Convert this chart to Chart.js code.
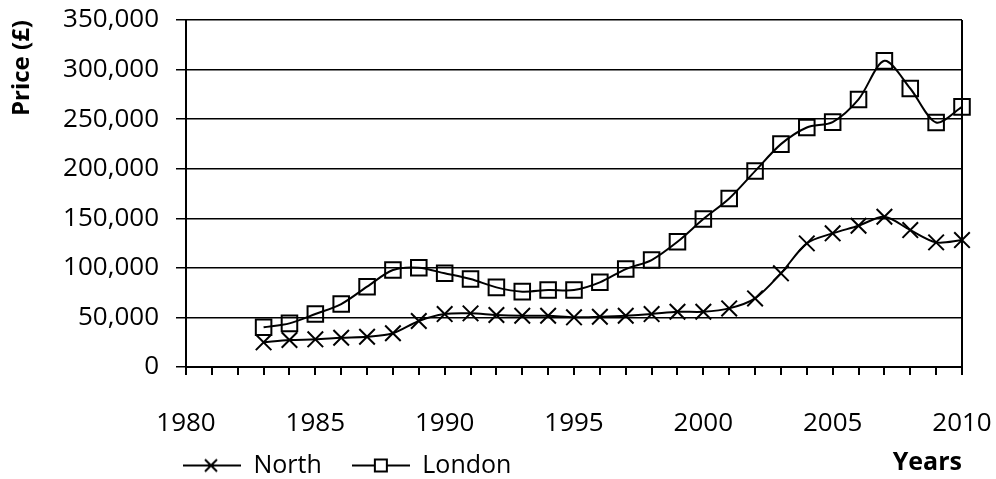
<!DOCTYPE html>
<html>
<head>
<meta charset="utf-8">
<script src="https://cdn.jsdelivr.net/npm/chart.js@4/dist/chart.umd.min.js"></script>
<style>
  html, body { margin: 0; padding: 0; background: #fff; }
  #wrap { width: 996px; height: 479px; }
</style>
</head>
<body>
<div id="wrap"><canvas id="priceChart"></canvas></div>
<script>
// data
const years  = [1983, 1984, 1985, 1986, 1987, 1988, 1989, 1990, 1991, 1992, 1993, 1994, 1995, 1996,
                1997, 1998, 1999, 2000, 2001, 2002, 2003, 2004, 2005, 2006, 2007, 2008, 2009, 2010];
const north  = [24900, 27200, 27900, 29500, 30500, 34000, 46400, 53400, 54100, 52400, 51700, 51700, 50100, 50700,
                51700, 53400, 55700, 55700, 59100, 69200, 94500, 124700, 134800, 142500, 151500, 138100, 125700, 128000];
const london = [40000, 44000, 53400, 63500, 81000, 97800, 100100, 94500, 88700, 80300, 76000, 77600, 77600, 85400,
                98800, 107900, 126300, 149200, 170000, 197600, 224800, 241600, 247000, 269900, 308800, 280900, 246600, 262400];
const seriesNames = ['North', 'London'];
const yearMin = 1980, yearMax = 2010;
const priceMax = 350000, priceStep = 50000;

Chart.defaults.font.family = "'Open Sans', sans-serif";
Chart.defaults.color = '#000';

// little line+marker pictures for the legend
function legendIcon(kind) {
  const c = document.createElement('canvas');
  c.width = 58; c.height = 20;
  const g = c.getContext('2d');
  g.strokeStyle = '#000';
  g.lineWidth = 2;
  g.beginPath(); g.moveTo(0, 10); g.lineTo(58, 10); g.stroke();
  if (kind === 'x') {
    g.beginPath();
    g.moveTo(22, 4); g.lineTo(34, 16);
    g.moveTo(34, 4); g.lineTo(22, 16);
    g.stroke();
  } else {
    g.fillStyle = '#fff';
    g.fillRect(23, 4, 12, 12);
    g.strokeRect(23, 4, 12, 12);
  }
  return c;
}
const icons = [legendIcon('x'), legendIcon('sq')];

// put the legend on the same row as the "Years" title
const legendRow = {
  id: 'legendRow',
  afterLayout(chart) {
    const lg = chart.legend;
    const pad = chart.options.plugins.legend.labels.padding;
    const dx = chart.chartArea.left - 3 - pad - lg.left;
    lg.left += dx;
    lg.right += dx;
    lg.top = chart.height - 56;
    lg.bottom = chart.height;
  }
};

// fixed axis boxes, no automatic label overflow padding
const noPad = s => { s.paddingTop = 0; s.paddingBottom = 0; s.paddingLeft = 0; s.paddingRight = 0; };

const toPoints = vals => years.map((yr, i) => ({ x: yr, y: vals[i] }));

const lineStyle = {
  borderColor: '#000',
  borderWidth: 2,
  tension: 0.3,
  pointRadius: 11,
  pointBorderWidth: 2,
  pointBorderColor: '#000',
  pointBackgroundColor: 'rgba(0,0,0,0)',
  fill: false,
  clip: false
};

new Chart(document.getElementById('priceChart'), {
  type: 'line',
  data: {
    datasets: [
      Object.assign({ label: seriesNames[0], data: toPoints(north), pointStyle: 'crossRot' }, lineStyle),
      Object.assign({ label: seriesNames[1], data: toPoints(london), pointStyle: 'rect' }, lineStyle)
    ]
  },
  options: {
    responsive: true,
    maintainAspectRatio: false,
    animation: false,
    layout: { padding: { top: 20, right: 34, left: 0, bottom: 0 } },
    scales: {
      x: {
        type: 'linear',
        min: yearMin,
        max: yearMax,
        afterFit: s => { s.height = 111; noPad(s); },
        ticks: {
          stepSize: 1,
          autoSkip: false,
          maxRotation: 0,
          padding: 33,
          font: { size: 26 },
          callback: v => (v % 5 === 0 ? String(v) : '')
        },
        grid: {
          drawOnChartArea: true,
          color: c => (c.tick && c.tick.value === yearMax ? '#000' : 'rgba(0,0,0,0)'),
          tickColor: '#000',
          lineWidth: 2,
          tickLength: 8
        },
        border: { color: '#000', width: 2 },
        title: {
          display: true,
          text: 'Years',
          align: 'end',
          font: { size: 25, weight: 'bold' },
          padding: { top: 0, bottom: 0 }
        }
      },
      y: {
        min: 0,
        max: priceMax,
        afterFit: s => { s.width = 186; noPad(s); },
        ticks: {
          stepSize: priceStep,
          padding: 17,
          font: { size: 26 },
          callback: v => v.toLocaleString('en-US')
        },
        grid: {
          color: '#000',
          lineWidth: 1.5,
          tickLength: 10,
          tickColor: '#000'
        },
        border: { color: '#000', width: 2 },
        title: {
          display: true,
          text: 'Price (£)',
          align: 'end',
          font: { size: 24, weight: 'bold' },
          padding: { top: 8, bottom: 0 }
        }
      }
    },
    plugins: {
      legend: {
        position: 'bottom',
        align: 'start',
        maxHeight: 1,
        labels: {
          usePointStyle: true,
          pointStyleWidth: 58,
          padding: 30,
          font: { size: 25 },
          color: '#000',
          generateLabels: chart => chart.data.datasets.map((ds, i) => ({
            text: ds.label,
            pointStyle: icons[i],
            datasetIndex: i,
            hidden: false,
            lineWidth: 0,
            strokeStyle: 'rgba(0,0,0,0)',
            fillStyle: 'rgba(0,0,0,0)'
          }))
        }
      },
      tooltip: { enabled: false }
    }
  },
  plugins: [legendRow]
});
</script>
</body>
</html>
